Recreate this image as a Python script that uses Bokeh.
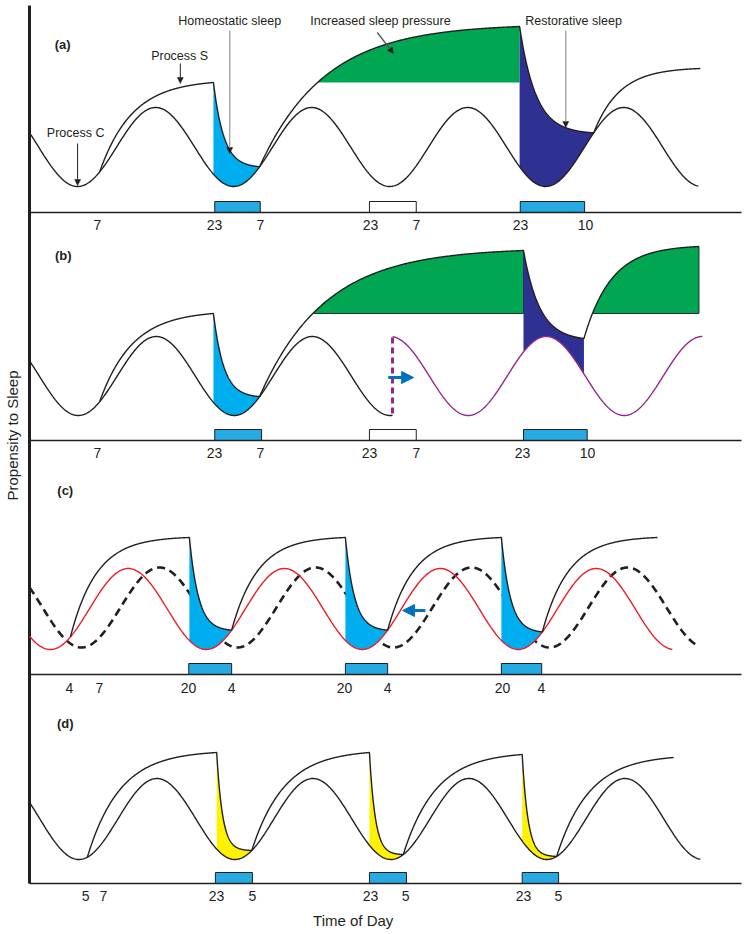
import numpy as np
from bokeh.plotting import figure
from bokeh.models import Range1d, Arrow, NormalHead
from bokeh.core.properties import value
from bokeh.embed import file_html
from bokeh.resources import INLINE

FONT = "Liberation Sans"
INK = "#231f20"
SKY = "#00aeef"
BAR = "#27aae1"
NAVY = "#2e3192"
GREEN = "#00a651"
YELLOW = "#fff200"
PURPLE = "#92278f"
ARROWBLUE = "#0072bc"
RED = "#ed1c24"

# ---------------- data ----------------
# hours after the left axis; levels = propensity to sleep above each panel's baseline
# Process C: [trough level, peak level, trough hour, first hour, last hour]
a_C = [26, 105, 7.4, 0.0, 102.9]
b_C = [25, 104, 7.5, 0.0, 55.85]
b_C_shifted = [25, 104, 19.5, 55.85, 103.5]
c_C_advanced = [25, 106, 3.2, 0.0, 98.9]
c_C_normal = [27, 107, 8.0, 0.0, 102.9]
d_C = [24, 105, 7.6, 0.0, 103.2]

# Process S breakpoints (None = meets process C) and time constant of each segment
a_S_hours = [10.8, 28.3, 35.4, 75.4, 86.8, 103.2]
a_S_levels = [None, 130, None, 186, None, 144]
a_S_tau = [5, 1.6, 10, 2.5, 4]
b_S_hours = [10.8, 28.3, 35.4, 76.0, 85.3, 103.0]
b_S_levels = [None, 127, None, 190, 102, 194]
b_S_tau = [5, 1.6, 10, 2.5, 4.2]
c_S_hours = [6.3, 24.6, 31.1, 48.6, 55.1, 72.6, 78.9, 96.6]
c_S_levels = [None, 137, None, 137, None, 137, None, 137]
c_S_tau = [4, 1.4, 4, 1.4, 4, 1.4, 4]
d_S_hours = [8.9, 28.8, 34.2, 52.3, 57.5, 75.8, 81.1, 99.1]
d_S_levels = [None, 131, None, 131, None, 129, None, 126]
d_S_tau = [5, 0.9, 5, 0.9, 5, 0.9, 5]

a_pressure_level = 130
b_pressure_level = 127

# sleep bars
a_bar_start = [28.5, 52.3, 75.5]
a_bar_end = [35.5, 59.5, 85.4]
a_bar_slept = [True, False, True]
b_bar_start = [28.5, 52.3, 76.0]
b_bar_end = [35.7, 59.5, 85.8]
b_bar_slept = [True, False, True]
c_bar_start = [24.5, 48.6, 72.6]
c_bar_end = [31.1, 55.1, 78.8]
c_bar_slept = [True, True, True]
d_bar_start = [28.6, 52.3, 75.8]
d_bar_end = [34.3, 58.0, 81.4]
d_bar_slept = [True, True, True]

# clock-time labels under each baseline
a_tick_hours = [10.46, 28.46, 35.54, 52.46, 59.54, 75.54, 85.54]
a_tick_labels = ["7", "23", "7", "23", "7", "23", "10"]
b_tick_hours = [10.46, 28.46, 35.54, 52.3, 59.54, 75.85, 85.85]
b_tick_labels = ["7", "23", "7", "23", "7", "23", "10"]
c_tick_hours = [6.15, 10.77, 24.46, 31.08, 48.46, 55.08, 72.77, 78.77]
c_tick_labels = ["4", "7", "20", "4", "20", "4", "20", "4"]
d_tick_hours = [8.62, 11.38, 28.77, 34.31, 52.46, 57.85, 76.0, 81.38]
d_tick_labels = ["5", "7", "23", "5", "23", "5", "23", "5"]

# annotations of panel (a)
a_note_text = ["Process C", "Process S", "Homeostatic sleep", "Increased sleep pressure", "Restorative sleep"]
a_note_hour = [7.1, 23.1, 30.8, 54.0, 83.7]
a_note_level = [80, 157, 192, 192, 192]
a_ptr_x0 = [7.4, 23.2, 30.8, 53.5, 82.5]
a_ptr_y0 = [69, 149, 182, 180, 182]
a_ptr_x1 = [7.4, 23.2, 30.8, 56.0, 82.5]
a_ptr_y1 = [27, 129, 59, 159, 85]
a_ptr_color = [INK, INK, "#a0a0a0", "#555555", "#a0a0a0"]

panel_names = ["(a)", "(b)", "(c)", "(d)"]
panel_name_hour = [5.1, 5.2, 5.5, 5.5]
panel_name_level = [168, 185, 184, 160]

# phase-shift arrows: x start, x end, level
b_shift_arrow = [55.2, 59.1, 63]
c_shift_arrow = [60.9, 57.4, 64]

x_title = "Time of Day"
y_title = "Propensity to Sleep"

# ---------------- layout ----------------
PX_PER_HOUR = 6.5
AXIS_PX, RIGHT_PX, WIDTH = 29, 741, 745
BOTTOM_PX, HEIGHT = 883, 930
X0 = -AXIS_PX / PX_PER_HOUR
X1 = (WIDTH - AXIS_PX) / PX_PER_HOUR
XEND = (RIGHT_PX - AXIS_PX) / PX_PER_HOUR
OFF = {"a": 671, "b": 443, "c": 209, "d": 0}
DROP = {"a": 12, "b": 12, "c": 13, "d": 12}
BAR_H = 11
AXIS_TOP = 878

p = figure(width=WIDTH, height=HEIGHT,
           x_range=Range1d(X0, X1), y_range=Range1d(BOTTOM_PX - HEIGHT, BOTTOM_PX),
           output_backend="svg", toolbar_location=None,
           x_axis_location=None, y_axis_location=None,
           min_border=0)
p.grid.visible = False
p.outline_line_color = None


def circadian(cp, t):
    trough, peak, thr = cp[0], cp[1], cp[2]
    return (trough + peak) / 2 - (peak - trough) / 2 * np.cos(2 * np.pi * (np.asarray(t, dtype=float) - thr) / 24)


def c_line(cp, n=700):
    t = np.linspace(cp[3], cp[4], n)
    return t, circadian(cp, t)


def s_segments(hours, levels, taus, cp, n=300):
    lv = [float(circadian(cp, h)) if l is None else float(l) for h, l in zip(hours, levels)]
    segs = []
    for i in range(len(hours) - 1):
        t0, t1, s0, s1, tau = hours[i], hours[i + 1], lv[i], lv[i + 1], taus[i]
        E = np.exp(-(t1 - t0) / tau)
        K = (s1 - s0 * E) / (1 - E)
        t = np.linspace(t0, t1, n)
        segs.append((t, K + (s0 - K) * np.exp(-(t - t0) / tau)))
    return segs


def s_line(segs):
    return np.concatenate([s[0] for s in segs]), np.concatenate([s[1] for s in segs])


def fill_to_c(seg, cp, o, color):
    t, s = seg
    p.varea(x=t, y1=o + circadian(cp, t), y2=o + s, fill_color=color)


def fill_pressure(seg, level, o, outline=False):
    t, s = seg
    m = s >= level
    tt, ss = t[m], s[m]
    p.varea(x=tt, y1=np.full_like(tt, o + level), y2=o + ss, fill_color=GREEN)
    if outline:
        p.line(x=[tt[0], tt[-1], tt[-1]], y=[o + level, o + level, o + ss[-1]],
               line_color=INK, line_width=0.9)


def bars(o, starts, ends, slept):
    n = len(starts)
    p.quad(left=starts, right=ends, bottom=[o] * n, top=[o + BAR_H] * n,
           fill_color=[BAR if s else "white" for s in slept], line_color=INK, line_width=1)


def ticks(key, hours, labels):
    o = OFF[key]
    p.text(x=hours, y=[o - DROP[key]] * len(hours), text=labels, text_font=value(FONT),
           text_font_size="14px", text_align="center", text_baseline="middle", text_color=INK)


a_segs = s_segments(a_S_hours, a_S_levels, a_S_tau, a_C)
b_segs = s_segments(b_S_hours, b_S_levels, b_S_tau, b_C)
c_segs = s_segments(c_S_hours, c_S_levels, c_S_tau, c_C_advanced)
d_segs = s_segments(d_S_hours, d_S_levels, d_S_tau, d_C)

# 1. displaced (dashed) rhythm of panel (c), below the fills
t, y = c_line(c_C_normal)
p.line(t, OFF["c"] + y, line_color=INK, line_width=2.6, line_dash="8 5")

# 2. fills
fill_to_c(a_segs[1], a_C, OFF["a"], SKY)
fill_pressure(a_segs[2], a_pressure_level, OFF["a"])
fill_to_c(a_segs[3], a_C, OFF["a"], NAVY)

fill_to_c(b_segs[1], b_C, OFF["b"], SKY)
fill_pressure(b_segs[2], b_pressure_level, OFF["b"], outline=True)
fill_pressure(b_segs[4], b_pressure_level, OFF["b"], outline=True)
fill_to_c(b_segs[3], b_C_shifted, OFF["b"], NAVY)

for k in (1, 3, 5):
    fill_to_c(c_segs[k], c_C_advanced, OFF["c"], SKY)
    fill_to_c(d_segs[k], d_C, OFF["d"], YELLOW)

# 3. sleep bars, baselines and the vertical axis
bars(OFF["a"], a_bar_start, a_bar_end, a_bar_slept)
bars(OFF["b"], b_bar_start, b_bar_end, b_bar_slept)
bars(OFF["c"], c_bar_start, c_bar_end, c_bar_slept)
bars(OFF["d"], d_bar_start, d_bar_end, d_bar_slept)
base_levels = [OFF[k] for k in "abcd"]
p.segment(x0=[0] * 4, x1=[XEND] * 4, y0=base_levels, y1=base_levels, line_color=INK, line_width=1.6)
p.segment(x0=[0], x1=[0], y0=[0], y1=[AXIS_TOP], line_color=INK, line_width=3)

# 4. process C lines
for cp, key, col in [(a_C, "a", INK), (b_C, "b", INK), (b_C_shifted, "b", PURPLE),
                     (c_C_advanced, "c", RED), (d_C, "d", INK)]:
    t, y = c_line(cp)
    p.line(t, OFF[key] + y, line_color=col, line_width=1.4)

# 5. process S lines
for segs, key in [(a_segs, "a"), (b_segs, "b"), (c_segs, "c"), (d_segs, "d")]:
    t, y = s_line(segs)
    p.line(t, OFF[key] + y, line_color=INK, line_width=1.4)

# 6. phase shift marks
p.segment(x0=[b_C_shifted[3]], x1=[b_C_shifted[3]], y0=[OFF["b"] + b_C[0] + 2], y1=[OFF["b"] + b_C[1] - 1],
          line_color=PURPLE, line_width=3, line_dash="6 4")
for arr, key in [(b_shift_arrow, "b"), (c_shift_arrow, "c")]:
    p.add_layout(Arrow(end=NormalHead(size=12, fill_color=ARROWBLUE, line_color=ARROWBLUE),
                       x_start=arr[0], y_start=OFF[key] + arr[2], x_end=arr[1], y_end=OFF[key] + arr[2],
                       line_color=ARROWBLUE, line_width=3))

# 7. annotations
for x0, y0, x1, y1, col in zip(a_ptr_x0, a_ptr_y0, a_ptr_x1, a_ptr_y1, a_ptr_color):
    p.add_layout(Arrow(end=NormalHead(size=6, fill_color=INK, line_color=INK, line_width=0.5),
                       x_start=x0, y_start=OFF["a"] + y0, x_end=x1, y_end=OFF["a"] + y1,
                       line_color=col, line_width=1.3 if col != INK else 1))
p.text(x=a_note_hour, y=[OFF["a"] + v for v in a_note_level], text=a_note_text,
       text_font=value(FONT), text_font_size="12.5px", text_align="center",
       text_baseline="middle", text_color=INK)

p.text(x=panel_name_hour, y=[OFF[k] + v for k, v in zip("abcd", panel_name_level)], text=panel_names,
       text_font=value(FONT), text_font_size="13px", text_font_style="bold",
       text_align="center", text_baseline="middle", text_color=INK)

ticks("a", a_tick_hours, a_tick_labels)
ticks("b", b_tick_hours, b_tick_labels)
ticks("c", c_tick_hours, c_tick_labels)
ticks("d", d_tick_hours, d_tick_labels)

# axis titles
p.text(x=[49.8], y=[-37], text=[x_title], text_font=value(FONT), text_font_size="15px",
       text_align="center", text_baseline="middle", text_color=INK)
p.text(x=[-2.6], y=[448], text=[y_title], angle=np.pi / 2, text_font=value(FONT), text_font_size="15px",
       text_align="center", text_baseline="middle", text_color=INK)

open("out.html", "w").write(file_html(p, INLINE))
